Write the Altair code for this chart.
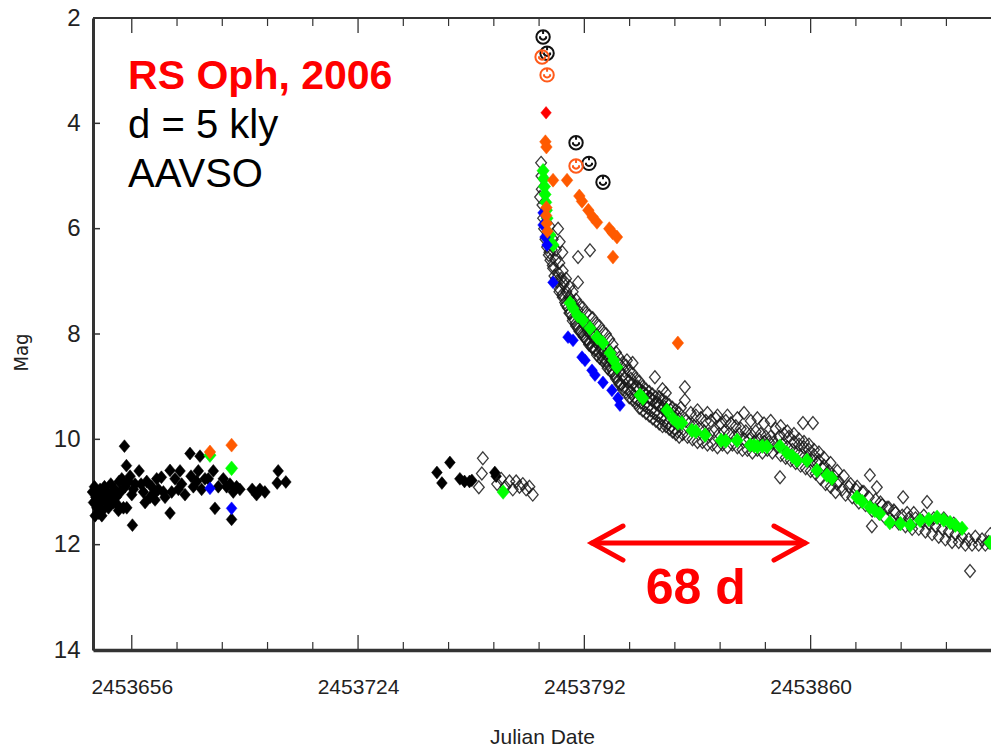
import altair as alt
import pandas as pd

JD0 = 2453600  # days below are counted from this Julian Date

# ---------------- data (days after JD0, magnitudes) ----------------
black_fill_day = [44.2, 44.5, 44.8, 45.0, 45.2, 45.5, 45.8, 46.0, 46.2, 46.5, 46.8, 47.0, 47.2, 47.5,
                  47.8, 48.2, 48.6, 49.0, 49.3, 49.7, 50.1, 50.5, 50.9, 51.3, 51.8, 52.0, 52.2, 52.6,
                  53.0, 53.5, 53.8, 54.0, 54.4, 54.5, 55.0, 55.5, 56.0, 56.2, 56.5, 57.0, 58.2, 58.8,
                  59.5, 60.0, 60.5, 61.5, 62.0, 62.5, 63.0, 63.5, 64.0, 64.9, 65.5, 66.0, 67.5, 67.5,
                  68.0, 69.0, 70.0, 70.5, 71.0, 72.0, 73.5, 73.8, 74.5, 75.5, 76.0, 76.5, 77.0, 78.0,
                  79.0, 80.5, 81.0, 82.0, 83.5, 84.5, 85.5, 86.0, 86.5, 87.5, 88.5, 92.2, 93.5, 94.5,
                  96.0, 99.7, 100.0, 102.3,
                  147.7, 149.2, 151.6, 154.6, 156.0, 157.5, 158.2, 165.1, 165.5]
black_fill_mag = [11.0, 11.2, 10.9, 11.45, 11.1, 11.3, 11.0, 11.4, 11.2, 10.95, 11.15, 11.45, 11.35, 11.05,
                  10.9, 11.2, 11.0, 11.3, 11.1, 10.85, 11.05, 11.2, 10.95, 11.1, 11.25, 11.35, 10.8, 11.0,
                  10.75, 11.3, 10.13, 10.9, 10.5, 11.3, 10.8, 10.7, 11.05, 11.63, 10.95, 10.85, 10.6, 10.85,
                  11.0, 11.2, 10.8, 11.1, 10.9, 11.05, 11.15, 10.75, 10.95, 10.72, 11.0, 11.1, 10.59, 11.4,
                  11.0, 10.75, 10.95, 10.6, 10.85, 11.05, 10.27, 10.7, 10.9, 10.8, 10.6, 10.32, 10.95, 10.75,
                  10.75, 10.6, 11.31, 10.9, 10.75, 10.9, 10.85, 11.52, 11.0, 10.9, 10.95, 10.95, 11.05, 10.95,
                  11.0, 10.83, 10.6, 10.81,
                  10.63, 10.83, 10.44, 10.75, 10.8, 10.8, 10.78, 10.63, 10.7]

black_open_day = [160.3, 161.2, 161.5, 165.8, 167.0, 168.3, 169.5, 170.5, 171.5, 172.5, 173.5, 174.5, 175.5, 176.5,
                  179.0, 179.1, 179.2, 178.7, 179.4, 179.6, 179.9, 180.3, 180.8, 181.3, 181.0, 181.8, 182.2, 182.6,
                  183.0, 183.4, 183.8, 184.2, 184.6, 185.0, 185.4, 185.8, 186.2, 186.6, 187.0, 187.4, 187.8, 188.2,
                  188.6, 189.0, 189.4, 189.8, 190.2, 190.6, 191.0, 191.4, 191.8, 192.2, 192.6, 193.0, 193.4, 193.8,
                  194.2, 194.6, 195.0, 195.4, 195.8, 196.2, 196.6, 197.0, 197.4, 197.8, 198.2, 198.6, 199.0, 199.4,
                  199.8, 200.2, 200.6, 201.0, 201.4, 201.8, 202.2, 202.6, 203.0, 203.4, 203.8, 204.2, 204.8, 205.0,
                  205.4, 206.0, 206.5, 206.5, 207.0, 207.5, 208.0, 208.5, 209.0, 209.5, 210.0, 210.5, 211.0, 211.5,
                  212.0, 212.5, 213.2, 213.0, 213.5, 214.0, 214.5, 215.0, 215.5, 215.5, 216.0, 216.5, 216.5, 217.0,
                  217.5, 218.0, 218.5, 219.0, 219.5, 220.0, 220.5, 221.0, 221.5, 222.2, 222.2, 222.5, 223.0, 223.5,
                  224.0, 224.5, 225.0, 225.5, 226.0, 226.5, 227.0, 227.5, 228.0, 228.5, 229.0, 229.5, 230.0, 230.5,
                  231.0, 231.5, 232.0, 232.5, 233.0, 233.5, 234.0, 234.5, 235.0, 235.5, 236.0, 236.5, 237.0, 237.5,
                  238.0, 238.5, 239.0, 239.5, 240.0, 240.5, 241.0, 241.5, 242.0, 242.5, 243.0, 243.5, 244.0, 244.5,
                  245.0, 245.5, 246.0, 246.5, 247.0, 247.5, 248.0, 248.5, 249.0, 249.5, 250.0, 250.8, 250.5, 251.0,
                  251.5, 252.0, 252.5, 253.0, 253.5, 254.0, 254.5, 255.0, 255.5, 256.0, 256.5, 257.0, 257.7, 257.5,
                  258.0, 258.5, 259.0, 259.5, 260.7, 260.0, 260.5, 261.0, 261.5, 262.0, 262.5, 263.0, 263.5, 264.0,
                  264.5, 265.0, 265.5, 266.0, 266.5, 267.0, 267.5, 268.0, 268.5, 269.5, 270.5, 271.5, 272.5, 273.5,
                  274.5, 275.5, 276.5, 277.5, 277.8, 278.4, 278.5, 279.5, 279.9, 280.5, 281.5, 282.5, 283.5, 284.5,
                  285.5, 286.5, 287.5, 287.8, 288.5, 289.5, 290.5, 291.5, 292.5, 293.5, 294.5, 295.0, 295.5, 296.5,
                  297.5, 298.5, 299.5, 300.5, 301.5, 302.5, 303.5, 304.5, 305.5, 306.5, 307.5, 307.9, 308.5, 309.5,
                  310.5, 311.5, 312.5, 313.5, 314.0,
                  184.1, 184.6, 185.4, 190.1, 193.7, 190.1]
black_open_mag = [10.91, 10.65, 10.36, 10.85, 10.75, 10.9, 10.8, 10.95, 10.8, 10.9, 10.85, 10.95, 10.9, 11.05,
                  4.75, 5.0, 5.25, 5.4, 5.55, 5.8, 6.0, 6.2, 6.35, 6.5, 6.1, 6.6, 6.4, 6.75,
                  6.9, 6.6, 7.0, 6.85, 7.15, 6.95, 7.25, 7.05, 7.4, 7.2, 7.5, 7.3, 7.6, 7.4,
                  7.7, 7.5, 7.8, 7.6, 7.9, 7.7, 7.95, 7.75, 8.05, 7.85, 8.1, 7.95, 8.2, 8.0,
                  8.25, 8.05, 8.3, 8.15, 8.4, 8.2, 8.45, 8.3, 8.5, 8.35, 8.55, 8.4, 8.65, 8.45,
                  8.7, 8.5, 8.75, 8.6, 8.8, 8.65, 8.9, 8.7, 8.95, 8.8, 9.0, 8.85, 8.5, 9.05,
                  8.9, 9.1, 8.95, 8.55, 9.2, 9.0, 9.25, 9.05, 9.3, 9.1, 9.35, 9.15, 9.4, 9.2,
                  9.45, 9.25, 8.82, 9.5, 9.3, 9.55, 9.35, 9.6, 9.4, 9.05, 9.65, 9.45, 9.12, 9.7,
                  9.5, 9.75, 9.55, 9.8, 9.6, 9.85, 9.62, 9.4, 9.9, 9.01, 9.26, 9.65, 9.95, 9.7,
                  9.5, 10.0, 9.75, 9.55, 10.05, 9.8, 9.6, 10.05, 9.85, 9.65, 10.1, 9.9, 9.65, 10.1,
                  9.85, 9.6, 10.15, 9.9, 9.7, 10.1, 9.85, 9.65, 10.15, 9.9, 9.7, 10.1, 9.95, 9.75,
                  10.15, 9.9, 9.8, 10.2, 10.0, 9.85, 10.2, 10.0, 9.9, 10.25, 10.05, 9.85, 10.2, 10.0,
                  9.9, 10.25, 10.05, 9.95, 10.2, 10.05, 9.95, 10.25, 10.05, 9.8, 10.15, 10.72, 9.95, 10.3,
                  10.1, 9.9, 10.35, 10.15, 9.95, 10.4, 10.2, 10.05, 10.45, 10.25, 10.1, 10.5, 9.69, 10.3,
                  10.15, 10.55, 10.35, 10.2, 9.69, 10.6, 10.4, 10.3, 10.65, 10.45, 10.4, 10.75, 10.55, 10.5,
                  10.85, 10.65, 10.6, 10.9, 10.75, 10.7, 11.0, 10.85, 10.8, 10.95, 11.05, 10.9, 11.1, 10.95,
                  11.2, 11.0, 11.25, 11.1, 10.68, 11.65, 11.35, 11.15, 10.91, 11.4, 11.25, 11.5, 11.3, 11.55,
                  11.4, 11.6, 11.45, 11.1, 11.65, 11.5, 11.7, 11.5, 11.7, 11.55, 11.75, 11.19, 11.6, 11.8,
                  11.65, 11.85, 11.7, 11.9, 11.75, 11.95, 11.8, 11.95, 11.85, 12.0, 11.9, 12.5, 12.0, 11.85,
                  12.0, 11.9, 12.0, 11.95, 11.8,
                  6.0, 6.25, 6.45, 6.54, 6.41, 7.02]

# extra visual estimates of the scatter on both sides of the decline
black_band_day = [181.5, 181.5, 182.5, 182.5, 183.5, 183.5, 184.5, 184.5, 185.5, 185.5, 186.5, 186.5,
                  187.5, 187.5, 188.5, 188.5, 189.5, 189.5, 190.5, 190.5, 191.5, 191.5, 192.5, 192.5,
                  193.5, 193.5, 194.5, 194.5, 195.5, 195.5, 196.5, 196.5, 197.5, 197.5, 198.5, 198.5,
                  199.5, 199.5, 200.5, 200.5, 201.5, 201.5, 202.5, 202.5, 203.5, 203.5, 204.5, 204.5,
                  205.5, 205.5, 206.5, 206.5, 207.5, 207.5, 208.5, 208.5, 209.5, 209.5, 210.5, 210.5,
                  211.5, 211.5, 212.5, 212.5, 213.5, 213.5, 214.5, 214.5, 215.5, 215.5, 216.5, 216.5,
                  217.5, 217.5, 218.5, 218.5, 219.5, 219.5, 220.5, 220.5,
                  226.0, 229.0, 232.0, 235.0, 238.0, 240.0, 242.0, 244.0, 246.0, 248.0, 251.0, 253.0,
                  255.0, 256.5, 258.0, 259.5, 261.0, 262.5, 264.0, 266.0, 268.0, 270.0, 272.0, 274.0,
                  276.0, 281.0, 283.0, 285.0, 289.0, 291.0, 294.0, 297.0, 300.0, 303.0,
                  186.0, 188.0, 190.0, 192.0, 194.0, 196.0, 198.0, 200.0, 202.0, 204.0, 206.0, 208.0,
                  210.0, 212.0, 214.0, 216.0, 218.0]
black_band_mag = [5.95, 6.45, 6.2, 6.7, 6.4, 6.95, 6.65, 7.2, 6.8, 7.3, 6.95, 7.45,
                  7.1, 7.6, 7.2, 7.75, 7.35, 7.85, 7.45, 7.95, 7.5, 8.0, 7.6, 8.1,
                  7.65, 8.15, 7.7, 8.25, 7.8, 8.3, 7.85, 8.35, 7.95, 8.45, 8.0, 8.5,
                  8.1, 8.6, 8.2, 8.7, 8.35, 8.85, 8.45, 8.95, 8.55, 9.05, 8.6, 9.1,
                  8.7, 9.2, 8.75, 9.25, 8.85, 9.3, 8.9, 9.4, 9.0, 9.45, 9.05, 9.5,
                  9.1, 9.55, 9.15, 9.6, 9.2, 9.65, 9.2, 9.7, 9.25, 9.75, 9.3, 9.75,
                  9.35, 9.8, 9.4, 9.85, 9.45, 9.9, 9.5, 9.95,
                  9.45, 9.5, 9.55, 9.55, 9.6, 9.5, 9.65, 9.6, 9.7, 9.65, 9.75, 9.85,
                  9.9, 10.0, 10.05, 10.1, 10.2, 10.25, 10.35, 10.45, 10.6, 10.7, 10.85, 10.9,
                  11.0, 11.2, 11.3, 11.35, 11.4, 11.4, 11.45, 11.5, 11.5, 11.6,
                  7.0, 7.35, 7.55, 7.75, 7.9, 8.05, 8.2, 8.35, 8.55, 8.7, 8.85, 9.0,
                  9.12, 9.22, 9.3, 9.38, 9.45]

green_day = [79.5, 86.0, 167.6,
             179.6, 179.8, 180.0, 180.2, 180.4, 180.6, 180.8, 181.7, 182.6, 187.7, 188.6, 190.0, 191.6,
             193.7, 195.8, 197.6, 199.7, 200.8, 201.8, 208.7, 209.6, 216.8, 218.6, 220.1, 221.3, 224.3,
             225.5, 228.3, 233.1, 234.5, 237.9, 241.8, 243.0, 244.0, 245.5, 246.9, 250.8, 252.9, 254.5,
             255.9, 258.9, 261.9, 264.9, 266.4, 273.9, 275.5, 277.8, 279.3, 280.8, 283.8, 287.0, 289.9,
             292.9, 295.5, 298.0, 300.0, 301.9, 303.5, 305.5, 313.9]
green_mag = [10.3, 10.55, 11.0,
             4.9, 5.05, 5.2, 5.35, 5.5, 5.65, 5.8, 6.12, 6.31, 7.41, 7.51, 7.65, 7.74,
             7.89, 8.06, 8.17, 8.36, 8.5, 8.63, 9.16, 9.22, 9.45, 9.6, 9.69, 9.69, 9.83,
             9.85, 9.92, 10.02, 10.03, 10.02, 10.11, 10.12, 10.14, 10.13, 10.14, 10.13, 10.26, 10.32,
             10.4, 10.4, 10.59, 10.68, 10.74, 11.1, 11.18, 11.29, 11.35, 11.41, 11.58, 11.6, 11.63,
             11.54, 11.52, 11.48, 11.53, 11.58, 11.63, 11.69, 11.96]

blue_day = [79.5, 86.0, 179.6, 179.6, 180.2, 180.8, 182.6, 187.1, 188.6, 191.3, 192.2, 194.3, 195.2,
            197.6, 200.3, 202.1, 202.7]
blue_mag = [10.93, 11.31, 5.7, 5.93, 6.16, 6.31, 7.02, 8.06, 8.12, 8.44, 8.5, 8.69, 8.78,
            8.92, 9.07, 9.22, 9.35]

orange_day = [79.5, 86.0, 180.3, 180.6, 180.6, 180.5, 180.7, 180.9, 182.6, 186.8, 190.5, 191.3,
              193.2, 194.5, 195.8, 199.5, 200.5, 201.8, 200.6, 220.1]
orange_mag = [10.24, 10.11, 4.35, 4.45, 5.6, 5.75, 5.9, 6.05, 5.08, 5.08, 5.38, 5.48,
              5.65, 5.78, 5.88, 6.0, 6.08, 6.16, 6.54, 8.17]

red_day = [180.5]
red_mag = [3.8]

circle_black_day = [179.6, 180.8, 189.5, 193.4, 197.6]
circle_black_mag = [2.36, 2.67, 4.37, 4.76, 5.12]
circle_orange_day = [179.3, 180.8, 189.5]
circle_orange_mag = [2.74, 3.08, 4.81]

# axis ticks
major_ticks = [2453656, 2453724, 2453792, 2453860]
minor_ticks = [2453669.6, 2453683.2, 2453696.8, 2453710.4, 2453737.6, 2453751.2, 2453764.8,
               2453778.4, 2453805.6, 2453819.2, 2453832.8, 2453846.4, 2453873.6, 2453887.2, 2453900.8]
mag_ticks = [2, 4, 6, 8, 10, 12, 14]

# annotations
info_text = ["RS Oph, 2006", "d = 5 kly", "AAVSO"]
info_color = ["#ff0000", "#000000", "#000000"]
info_weight = ["bold", "normal", "normal"]
info_day = [54.9, 54.9, 54.9]
info_mag = [3.35, 4.28, 5.21]
span_day = [194.3, 258.3]
span_mag = [11.97, 11.97]
span_label = "68 d"
span_label_day = 225.5
span_label_mag = 13.12

# ---------------- chart ----------------
W, H = 898, 632
SANS = "Liberation Sans, Arial, sans-serif"
COND = "DejaVu Sans Condensed, sans-serif"


def frame(days, mags):
    return pd.DataFrame({"jd": [JD0 + d for d in days], "mag": mags})


x_enc = alt.X("jd:Q",
              scale=alt.Scale(domain=[2453644.35, 2453914.2], nice=False, zero=False),
              axis=alt.Axis(values=major_ticks, format="d", ticks=False, grid=False,
                            labelFont=SANS, labelFontSize=21, labelColor="#222",
                            labelPadding=26, labelFlush=False,
                            domainColor="#333", domainWidth=3.5,
                            title="Julian Date", titleFont=SANS, titleFontSize=21,
                            titleFontWeight="normal", titleColor="#222",
                            titleBaseline="alphabetic", titleY=93))
y_enc = alt.Y("mag:Q",
              scale=alt.Scale(domain=[2, 14], reverse=True, nice=False, zero=False),
              axis=alt.Axis(values=mag_ticks, format="d", ticks=False, grid=False,
                            labelFont=SANS, labelFontSize=24, labelColor="#222",
                            labelPadding=13, labelFlush=False,
                            domainColor="#333", domainWidth=3,
                            title="Mag", titleFont=COND, titleFontSize=20,
                            titleFontWeight="normal", titleColor="#222",
                            titleAngle=-90, titleBaseline="alphabetic",
                            titleX=-66, titleY=334, titleAlign="center"))

DIAMOND = "M0,-1.2L1,0L0,1.2L-1,0Z"
CIRCLE_U = ("M1,0A1,1,0,1,1,-1,0A1,1,0,1,1,1,0Z"
            "M-0.45,-0.1L-0.45,0.15Q0,0.65,0.45,0.15L0.45,-0.1M0,-1L0,-0.45")


def filled(days, mags, color, size=100):
    return alt.Chart(frame(days, mags)).mark_point(
        shape=DIAMOND, filled=True, fill=color, stroke=color, strokeWidth=0.5,
        size=size, opacity=1).encode(x=x_enc, y=y_enc)


def open_diamonds(days, mags):
    return alt.Chart(frame(days, mags)).mark_point(
        shape=DIAMOND, filled=False, stroke="#1a1a1a", strokeWidth=1.3, size=115, opacity=0.85
    ).encode(x=x_enc, y=y_enc)


def circles(days, mags, color):
    return alt.Chart(frame(days, mags)).mark_point(
        shape=CIRCLE_U, filled=False, stroke=color, strokeWidth=2, size=180, opacity=1
    ).encode(x=x_enc, y=y_enc)


one = pd.DataFrame({"k": [0]})
top_line = alt.Chart(one).mark_rule(color="#333", strokeWidth=2).encode(
    x=alt.value(0), x2=alt.value(W), y=alt.value(0))

maj_df = pd.DataFrame({"jd": major_ticks})
min_df = pd.DataFrame({"jd": minor_ticks})
tick_bot_major = alt.Chart(maj_df).mark_rule(color="#333", strokeWidth=1.3).encode(
    x=x_enc, y=alt.value(H), y2=alt.value(H - 15))
tick_bot_minor = alt.Chart(min_df).mark_rule(color="#333", strokeWidth=1.2).encode(
    x=x_enc, y=alt.value(H), y2=alt.value(H - 8))
tick_top_major = alt.Chart(maj_df).mark_rule(color="#333", strokeWidth=1.3).encode(
    x=x_enc, y=alt.value(0), y2=alt.value(15))
tick_top_minor = alt.Chart(min_df).mark_rule(color="#333", strokeWidth=1.2).encode(
    x=x_enc, y=alt.value(0), y2=alt.value(8))
tick_y = alt.Chart(pd.DataFrame({"mag": mag_ticks})).mark_rule(color="#333", strokeWidth=1.5).encode(
    y=y_enc, x=alt.value(0), x2=alt.value(7))

info_df = pd.DataFrame({"jd": [JD0 + d for d in info_day], "mag": info_mag,
                        "t": info_text, "c": info_color, "w": info_weight})
info_bold = alt.Chart(info_df[info_df.w == "bold"]).mark_text(
    align="left", baseline="alphabetic", font=SANS, fontSize=41, fontWeight="bold"
).encode(x=x_enc, y=y_enc, text="t:N", color=alt.Color("c:N", scale=None))
info_norm = alt.Chart(info_df[info_df.w == "normal"]).mark_text(
    align="left", baseline="alphabetic", font=SANS, fontSize=40, fontWeight="normal"
).encode(x=x_enc, y=y_enc, text="t:N", color=alt.Color("c:N", scale=None))

span_df = pd.DataFrame({"jd": [JD0 + span_day[0]], "jd2": [JD0 + span_day[1]], "mag": [span_mag[0]]})
span_line = alt.Chart(span_df).mark_rule(color="#ff0000", strokeWidth=5, strokeCap="round").encode(
    x=x_enc, x2="jd2:Q", y=y_enc)
left_head = alt.Chart(frame([span_day[0]], [span_mag[0]])).mark_point(
    shape="M1,-0.55L0,0L1,0.55", filled=False, stroke="#ff0000", strokeWidth=5,
    strokeCap="round", strokeJoin="miter", size=3844, opacity=1).encode(x=x_enc, y=y_enc)
right_head = alt.Chart(frame([span_day[1]], [span_mag[1]])).mark_point(
    shape="M-1,-0.55L0,0L-1,0.55", filled=False, stroke="#ff0000", strokeWidth=5,
    strokeCap="round", strokeJoin="miter", size=3844, opacity=1).encode(x=x_enc, y=y_enc)
span_text = alt.Chart(pd.DataFrame({"jd": [JD0 + span_label_day], "mag": [span_label_mag],
                                    "t": [span_label]})).mark_text(
    align="center", baseline="alphabetic", font=SANS, fontSize=50, fontWeight="bold", color="#ff0000"
).encode(x=x_enc, y=y_enc, text="t:N")

chart = alt.layer(
    top_line, tick_bot_major, tick_bot_minor, tick_top_major, tick_top_minor, tick_y,
    filled(black_fill_day, black_fill_mag, "#000000", 115),
    open_diamonds(black_open_day, black_open_mag),
    open_diamonds(black_band_day, black_band_mag),
    filled(green_day, green_mag, "#00ff00", 150),
    filled(blue_day, blue_mag, "#0000ff", 115),
    filled(orange_day, orange_mag, "#ff5a00", 135),
    filled(red_day, red_mag, "#ff0000", 110),
    circles(circle_black_day, circle_black_mag, "#111111"),
    circles(circle_orange_day, circle_orange_mag, "#ff5a1a"),
    info_bold, info_norm,
    span_line, left_head, right_head, span_text,
).properties(
    width=W, height=H,
    autosize=alt.AutoSizeParams(type="none"),
    padding={"left": 93, "top": 18, "right": 0, "bottom": 99},
    background="white",
).configure_view(strokeWidth=0)

chart.save("out.html", embed_options={"renderer": "svg", "actions": False})
